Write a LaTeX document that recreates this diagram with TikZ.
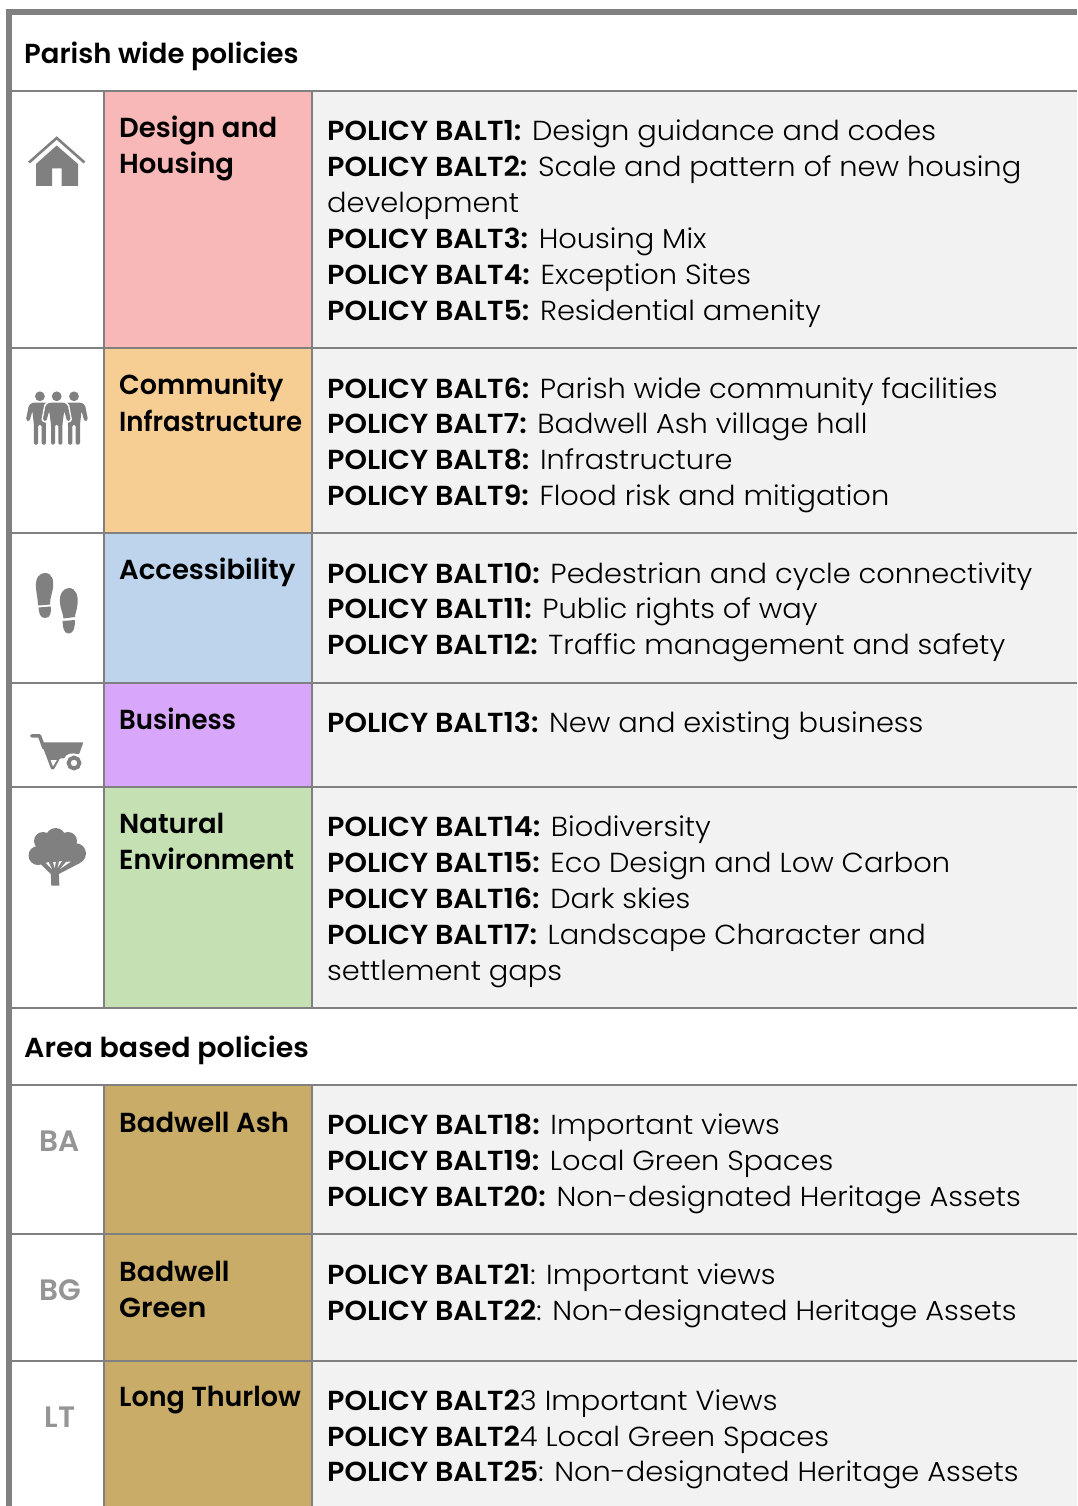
\documentclass[tikz,border=0pt]{standalone}
\usepackage{fontspec}
\setmainfont{Poppins}
\newfontfamily\bodyfont[FakeStretch=1.05,BoldFont={Poppins SemiBold},BoldFeatures={FakeStretch=1.04}]{Poppins Light}
\newfontfamily\headfont[FakeStretch=1.0]{Poppins SemiBold}
\newfontfamily\headmid[FakeStretch=0.98]{Poppins SemiBold}
\newfontfamily\headwide[FakeStretch=1.035]{Poppins SemiBold}
\newfontfamily\headnarrow[FakeStretch=0.945]{Poppins SemiBold}
\definecolor{rule}{HTML}{808080}
\definecolor{cellgrey}{HTML}{F2F2F2}
\definecolor{cpink}{HTML}{F8B8B8}
\definecolor{corange}{HTML}{F6CE94}
\definecolor{cblue}{HTML}{BDD4EC}
\definecolor{cpurple}{HTML}{D8A7FC}
\definecolor{cgreen}{HTML}{C5E0B3}
\definecolor{cgold}{HTML}{C8AC67}
\definecolor{icon}{HTML}{808080}
\definecolor{abbr}{HTML}{959595}
\tikzset{
  x=1pt,y=-1pt,
  gridline/.style={draw=rule,line width=2.2pt},
  outerline/.style={draw=rule,line width=6pt},
  poltext/.style={anchor=base west,inner sep=0pt,font=\fontsize{27.5}{36}\bodyfont,text=black},
  headtext/.style={anchor=base west,inner sep=0pt,font=\fontsize{27.5}{36}\headfont,text=black},
  midhead/.style={anchor=base west,inner sep=0pt,font=\fontsize{27.5}{36}\headmid,text=black},
  widehead/.style={anchor=base west,inner sep=0pt,font=\fontsize{27.5}{36}\headwide,text=black},
  narrowhead/.style={anchor=base west,inner sep=0pt,font=\fontsize{27.5}{36}\headnarrow,text=black},
  abbrtext/.style={anchor=base,inner sep=0pt,font=\fontsize{29.5}{36}\headfont,text=abbr},
}
\newcommand{\band}[3]{\fill[#1] (105,#2) rectangle (312,#3);\fill[cellgrey] (312,#2) rectangle (1077,#3);}
\begin{document}
\begin{tikzpicture}
\useasboundingbox (0,0) rectangle (1077,1506);
\fill[white] (0,0) rectangle (1077,1506);
\band{cpink}{91}{348}
\band{corange}{348}{533}
\band{cblue}{533}{683}
\band{cpurple}{683}{787}
\band{cgreen}{787}{1008}
\band{cgold}{1085}{1234}
\band{cgold}{1234}{1361}
\band{cgold}{1361}{1506}
% grid
\foreach \yy in {91,348,533,683,787,1008,1085,1234,1361}{\draw[gridline] (12,\yy) -- (1077,\yy);}
\draw[gridline] (104,91) -- (104,1008);
\draw[gridline] (312,91) -- (312,1008);
\draw[gridline] (104,1085) -- (104,1506);
\draw[gridline] (312,1085) -- (312,1506);
\draw[outerline] (9,1506) -- (9,12) -- (1077,12);
% section titles
\node[headtext] (parish) at (24,64) {Parish wide policies};
\node[widehead] (area) at (24,1057) {Area based policies};
% themes
\node[headtext] (t1a) at (119,138) {Design and};
\node[headtext] (t1b) at (119,174) {Housing};
\node[midhead] (t2a) at (119,394) {Community};
\node[narrowhead] (t2b) at (119,431) {Infrastructure};
\node[headtext] (t3) at (119,579) {Accessibility};
\node[narrowhead] (t4) at (119,729) {Business};
\node[headtext] (t5a) at (119,833) {Natural};
\node[midhead] (t5b) at (119,869) {Environment};
\node[headtext] (t6) at (119,1132) {Badwell Ash};
\node[headtext] (t7a) at (119,1281) {Badwell};
\node[widehead] (t7b) at (119,1317) {Green};
\node[midhead] (t8) at (119,1406) {Long Thurlow};
\node[abbrtext] (ba) at (60,1151) {BA};
\node[abbrtext] (bg) at (60,1300) {BG};
\node[abbrtext] (lt) at (60,1427) {LT};
% policies
\node[poltext] (p1) at (327,141) {\textbf{POLICY BALT1:} Design guidance and codes};
\node[poltext] (p2) at (327,177) {\textbf{POLICY BALT2:} Scale and pattern of new housing};
\node[poltext] (p2b) at (327,213) {development};
\node[poltext] (p3) at (327,249) {\textbf{POLICY BALT3:} Housing Mix};
\node[poltext] (p4) at (327,284) {\textbf{POLICY BALT4:} Exception Sites};
\node[poltext] (p5) at (327,320) {\textbf{POLICY BALT5:} Residential amenity};
\node[poltext] (p6) at (327,398) {\textbf{POLICY BALT6:} Parish wide community facilities};
\node[poltext] (p7) at (327,433) {\textbf{POLICY BALT7:} Badwell Ash village hall};
\node[poltext] (p8) at (327,469) {\textbf{POLICY BALT8:} Infrastructure};
\node[poltext] (p9) at (327,505) {\textbf{POLICY BALT9:} Flood risk and mitigation};
\node[poltext] (p10) at (327,583) {\textbf{POLICY BALT10:} Pedestrian and cycle connectivity};
\node[poltext] (p11) at (327,618) {\textbf{POLICY BALT11:} Public rights of way};
\node[poltext] (p12) at (327,654) {\textbf{POLICY BALT12:} Traffic management and safety};
\node[poltext] (p13) at (327,732) {\textbf{POLICY BALT13:} New and existing business};
\node[poltext] (p14) at (327,836) {\textbf{POLICY BALT14:} Biodiversity};
\node[poltext] (p15) at (327,872) {\textbf{POLICY BALT15:} Eco Design and Low Carbon};
\node[poltext] (p16) at (327,908) {\textbf{POLICY BALT16:} Dark skies};
\node[poltext] (p17) at (327,944) {\textbf{POLICY BALT17:} Landscape Character and};
\node[poltext] (p17b) at (327,980) {settlement gaps};
\node[poltext] (p18) at (327,1134) {\textbf{POLICY BALT18:} Important views};
\node[poltext] (p19) at (327,1170) {\textbf{POLICY BALT19:} Local Green Spaces};
\node[poltext] (p20) at (327,1206) {\textbf{POLICY BALT20:} Non-designated Heritage Assets};
\node[poltext] (p21) at (327,1284) {\textbf{POLICY BALT21}: Important views};
\node[poltext] (p22) at (327,1320) {\textbf{POLICY BALT22}: Non-designated Heritage Assets};
\node[poltext] (p23) at (327,1410) {\textbf{POLICY BALT2}3 Important Views};
\node[poltext] (p24) at (327,1446) {\textbf{POLICY BALT2}4 Local Green Spaces};
\node[poltext] (p25) at (327,1481) {\textbf{POLICY BALT25}: Non-designated Heritage Assets};
% house icon
\draw[icon,line width=2.6pt,miter limit=10] (29,162.5) -- (56.7,138) -- (84.5,162.5);
\fill[icon] (56.7,145.5) -- (78,164) -- (78,186) -- (61.5,186) -- (61.5,168.5) -- (52,168.5) -- (52,186) -- (36,186) -- (36,164) -- cycle;
% people icon
\foreach \cx in {39.9,74}{
  \fill[icon] (\cx,396.3) circle (4.9);
  \fill[icon,rounded corners=1.5pt] ({\cx-7},402.5) -- ({\cx+7},402.5) -- ({\cx+11},405) -- ({\cx+14},420) -- ({\cx+10.5},421.5) -- ({\cx+7.5},411) -- ({\cx+6},424.7) -- ({\cx+6},444.7) -- ({\cx+1.7},444.7) -- ({\cx+1.7},424.7) -- ({\cx-1.7},424.7) -- ({\cx-1.7},444.7) -- ({\cx-6},444.7) -- ({\cx-6},424.7) -- ({\cx-7.5},411) -- ({\cx-10.5},421.5) -- ({\cx-14},420) -- ({\cx-11},405) -- cycle;
}
\fill[icon] (56.7,396.3) circle (4.9);
\fill[white,rounded corners=1.5pt] (48.7,401.2) -- (64.7,401.2) -- (69,403.8) -- (72.2,421) -- (67,423) -- (64,425) -- (49.4,425) -- (46.4,423) -- (41.2,421) -- (44.4,403.8) -- cycle;
\fill[icon,rounded corners=1.5pt] (49.7,402.5) -- (63.7,402.5) -- (67.7,405) -- (70.7,420) -- (67.2,421.5) -- (64.2,411) -- (62.4,424.7) -- (62.4,444.7) -- (58.4,444.7) -- (58.4,424.7) -- (55,424.7) -- (55,444.7) -- (51,444.7) -- (51,424.7) -- (49.2,411) -- (46.2,421.5) -- (42.7,420) -- (45.7,405) -- cycle;
% footprints icon
\fill[icon] (36,588) .. controls (35,577) and (40,573) .. (45,573) .. controls (52,573) and (54,580) .. (53,588) .. controls (52,594) and (50,598) .. (50,604.5) -- (38,605.5) .. controls (38,600) and (36.5,594) .. (36,588) -- cycle;
\fill[icon] (38.5,607.5) -- (51,606.5) .. controls (51,612) and (51,618) .. (45,618) .. controls (40,618) and (39,613) .. (38.5,607.5) -- cycle;
\fill[icon] (60,603) .. controls (59,593) and (64,588) .. (69,588) .. controls (76,588) and (78.5,596) .. (77.5,604) .. controls (77,610) and (75,614) .. (75,617) -- (63.5,618.5) .. controls (63,613) and (60.5,609) .. (60,603) -- cycle;
\fill[icon] (62.5,621) -- (75,620) .. controls (75,627) and (74,633.5) .. (68.5,633.5) .. controls (63,633.5) and (63,626) .. (62.5,621) -- cycle;
% wheelbarrow icon
\draw[icon,line width=3.5pt,line cap=round,line join=round] (31.8,735.8) -- (39.5,735.8) -- (44,748);
\fill[icon,rounded corners=0.8pt] (41,742.3) -- (83.4,742.3) -- (79,754.3) .. controls (72,752.5) and (66,753.5) .. (64.5,758.3) -- (60,758.3) -- (54,769.3) -- (51.2,769.3) -- cycle;
\fill[white] (50.5,760) -- (56.8,760) -- (53,766.4) -- cycle;
\draw[icon,line width=3.9pt] (74,763) circle (5.4);
% tree icon
\fill[icon] (55.7,838) circle (10);
\fill[icon] (43,841) circle (9);
\fill[icon] (68,841) circle (9);
\fill[icon] (38,855.5) circle (9.5);
\fill[icon] (75.7,853.5) circle (10.3);
\fill[icon] (40,845) -- (73,845) -- (78,862) -- (60,863) -- (42,864.5) -- cycle;
\fill[icon] (51.3,885.5) -- (59.4,885.5) -- (58.8,874) -- (80,863) -- (70,858) -- (45,858) -- (41,864.5) -- (50.8,874) -- cycle;
\fill[white] (46,863) -- (48.5,862) -- (52,869) -- cycle;
\fill[white] (53,862) -- (55.8,862) -- (54.7,868) -- cycle;
\fill[white] (57.5,868) -- (59,861.5) -- (62,861) -- cycle;
\fill[white] (60,869) -- (66,862) -- (71,861.5) -- cycle;
\end{tikzpicture}
\end{document}
